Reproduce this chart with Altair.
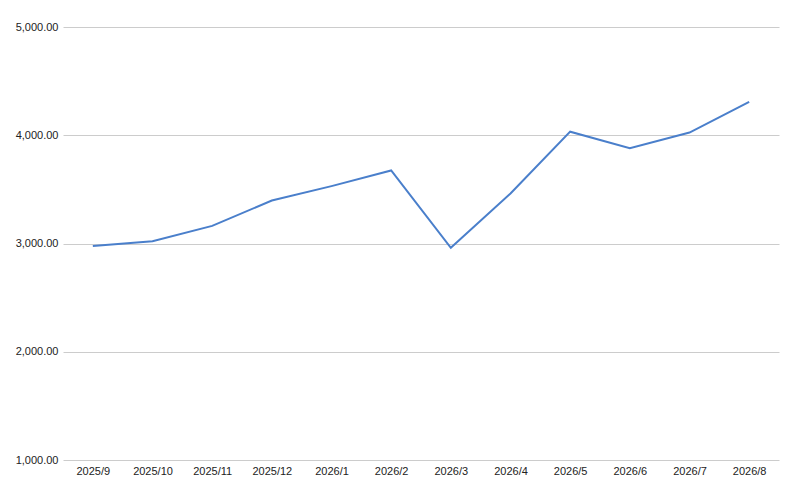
import altair as alt
import pandas as pd

months = ["2025/9", "2025/10", "2025/11", "2025/12", "2026/1", "2026/2",
          "2026/3", "2026/4", "2026/5", "2026/6", "2026/7", "2026/8"]
values = [2978, 3021, 3163, 3397, 3530, 3675, 2960, 3462, 4033, 3880, 4025, 4308]

df = pd.DataFrame({"month": months, "value": values})

chart = alt.Chart(df).mark_line(color="#4a7fcb", strokeWidth=2).encode(
    x=alt.X("month:N", sort=months, title=None,
            scale=alt.Scale(paddingInner=1, paddingOuter=0.5),
            axis=alt.Axis(labelAngle=0, ticks=False, domain=False, grid=False,
                          labelFont="Liberation Sans", labelFontSize=11,
                          labelColor="#222222", labelPadding=5)),
    y=alt.Y("value:Q", title=None,
            scale=alt.Scale(domain=[1000, 5000], nice=False, zero=False),
            axis=alt.Axis(values=[1000, 2000, 3000, 4000, 5000], format=",.2f",
                          ticks=False, domain=False, gridColor="#cccccc",
                          labelFont="Liberation Sans", labelFontSize=11,
                          labelColor="#222222", labelPadding=5)),
).properties(
    width=716, height=433,
    autosize=alt.AutoSizeParams(type="none"),
    padding={"left": 55, "top": 19, "right": 13, "bottom": 28},
).configure_view(stroke=None)

chart.save("out.html", embed_options={"renderer": "svg", "actions": False})
